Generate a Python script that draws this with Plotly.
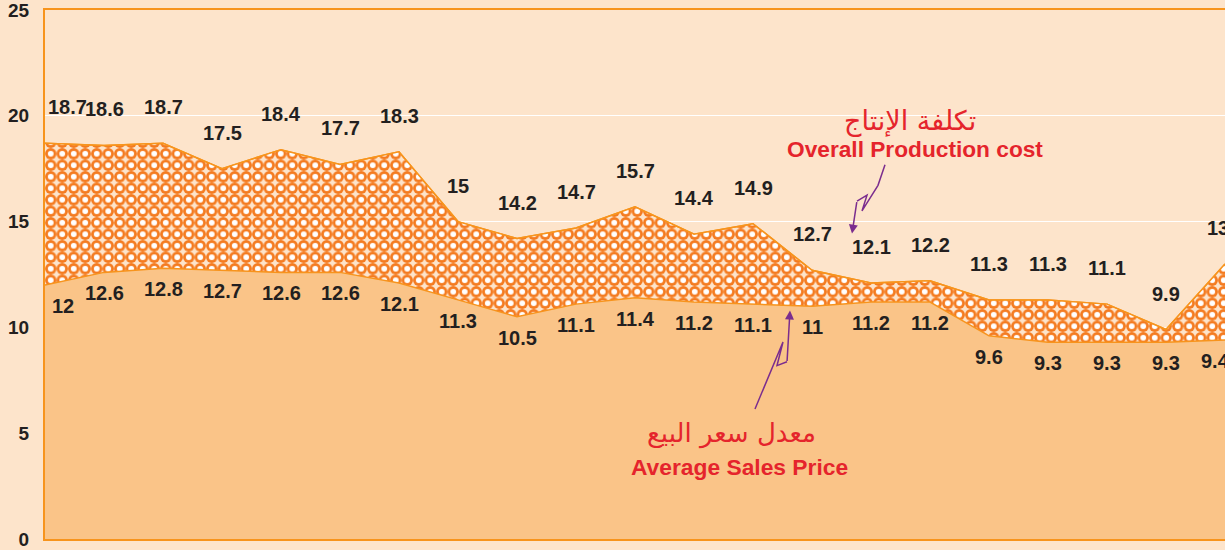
import plotly.graph_objects as go

# ---- data ----
periods = list(range(21))
production_cost = [18.7, 18.6, 18.7, 17.5, 18.4, 17.7, 18.3, 15, 14.2, 14.7, 15.7,
                   14.4, 14.9, 12.7, 12.1, 12.2, 11.3, 11.3, 11.1, 9.9, 13]
sales_price = [12, 12.6, 12.8, 12.7, 12.6, 12.6, 12.1, 11.3, 10.5, 11.1, 11.4,
               11.2, 11.1, 11, 11.2, 11.2, 9.6, 9.3, 9.3, 9.3, 9.4]
y_ticks = [0, 5, 10, 15, 20, 25]

# ---- styles ----
BG = "#FDE4CB"
LOWER_FILL = "#FAC488"
BAND = "#F47B20"
LINE = "#F7941D"
TEXT = "#231F20"
RED = "#E5242C"
PURPLE = "#7B2D8E"
FONT = "Liberation Sans, Arial, Helvetica, sans-serif"
AR_FONT = "DejaVu Sans, Noto Sans, sans-serif"

W, H = 1225, 550
ML, MR, MT, MB = 45, 0, 10, 3
PW, PH = W - ML - MR, H - MT - MB


def px(xp):
    return (xp - ML) / PW


def py(yp):
    return (H - MB - yp) / PH


fig = go.Figure()

# patterned band: orange circles on transparent ground (plot bg + grid show through gaps)
fig.add_trace(go.Scatter(
    x=periods, y=production_cost, mode="lines",
    line=dict(color=LINE, width=1.5),
    fill="tozeroy", fillcolor="rgba(0,0,0,0)",
    fillpattern=dict(shape=".", bgcolor="rgba(0,0,0,0)", fgcolor=BAND, size=11.5,
                     solidity=0.77, fillmode="replace"),
    hoverinfo="skip", showlegend=False,
))
# white dots at the centres of the orange circles
fig.add_trace(go.Scatter(
    x=periods, y=production_cost, mode="lines",
    line=dict(color=LINE, width=1.5),
    fill="tozeroy", fillcolor="rgba(0,0,0,0)",
    fillpattern=dict(shape=".", bgcolor="rgba(0,0,0,0)", fgcolor="white", size=11.5,
                     solidity=0.2, fillmode="replace"),
    hoverinfo="skip", showlegend=False,
))

# sales price area (solid)
fig.add_trace(go.Scatter(
    x=periods, y=sales_price, mode="lines",
    line=dict(color=LINE, width=1.5),
    fill="tozeroy", fillcolor=LOWER_FILL,
    hoverinfo="skip", showlegend=False,
))


def path(points):
    return "M " + " L ".join(f"{px(a):.5f},{py(b):.5f}" for a, b in points)


shapes = [
    dict(type="path", xref="paper", yref="paper",
         path=path([(885, 167), (878, 188), (862, 214), (867, 198), (857, 204)]),
         line=dict(color=PURPLE, width=1.5)),
    dict(type="path", xref="paper", yref="paper",
         path=path([(755, 415), (783, 347), (777, 371), (787, 367)]),
         line=dict(color=PURPLE, width=1.5)),
]

last = len(periods) - 1
annotations = []
# value labels
for i, v in enumerate(production_cost):
    annotations.append(dict(
        x=periods[i], y=v, xref="x", yref="y", text=f"<b>{v:g}</b>",
        showarrow=False, xanchor="center", yanchor="middle",
        yshift=36, xshift=22 if i == 0 else (-7 if i == last else 0),
        font=dict(family=FONT, size=20, color=TEXT)))
for i, v in enumerate(sales_price):
    annotations.append(dict(
        x=periods[i], y=v, xref="x", yref="y", text=f"<b>{v:g}</b>",
        showarrow=False, xanchor="center", yanchor="middle",
        yshift=-21, xshift=18 if i == 0 else (-10 if i == last else 0),
        font=dict(family=FONT, size=20, color=TEXT)))

annotations += [
    dict(xref="paper", yref="paper", x=px(852), y=py(237), ax=5, ay=-33,
         showarrow=True, arrowhead=2, arrowsize=1.2, arrowwidth=1.5,
         arrowcolor=PURPLE, text=""),
    dict(xref="paper", yref="paper", x=px(790), y=py(315), ax=-3, ay=52,
         showarrow=True, arrowhead=2, arrowsize=1.2, arrowwidth=1.5,
         arrowcolor=PURPLE, text=""),
    dict(xref="paper", yref="paper", x=px(910), y=py(123), showarrow=False,
         xanchor="center", yanchor="middle", text="تكلفة الإنتاج",
         font=dict(family=AR_FONT, size=27, color=RED)),
    dict(xref="paper", yref="paper", x=px(915), y=py(151), showarrow=False,
         xanchor="center", yanchor="middle", text="<b>Overall Production cost</b>",
         font=dict(family=FONT, size=22.7, color=RED)),
    dict(xref="paper", yref="paper", x=px(731), y=py(440), showarrow=False,
         xanchor="center", yanchor="middle", text="معدل سعر البيع",
         font=dict(family=AR_FONT, size=26, color=RED)),
    dict(xref="paper", yref="paper", x=px(739), y=py(474), showarrow=False,
         xanchor="center", yanchor="middle", text="<b>Average Sales Price</b>",
         font=dict(family=FONT, size=22.8, color=RED)),
]

fig.update_layout(
    width=W, height=H,
    margin=dict(l=ML, r=MR, t=MT, b=MB),
    paper_bgcolor=BG, plot_bgcolor=BG,
    shapes=shapes, annotations=annotations,
    xaxis=dict(range=[0, 20], showgrid=False, zeroline=False,
               showticklabels=False, ticks="",
               showline=True, linecolor=LINE, linewidth=2, mirror=True),
    yaxis=dict(range=[0, 25], tickvals=y_ticks, showgrid=True,
               gridcolor="white", gridwidth=1, zeroline=False,
               showline=True, linecolor=LINE, linewidth=2,
               ticks="", ticklabelstandoff=10, ticklabeloverflow="allow",
               tickfont=dict(family=FONT, size=19, color=TEXT, weight="bold")),
)

fig.write_html(
    "out.html",
    config={"displayModeBar": False},
    post_script="document.body.style.margin='0';document.body.style.overflow='hidden';",
)
